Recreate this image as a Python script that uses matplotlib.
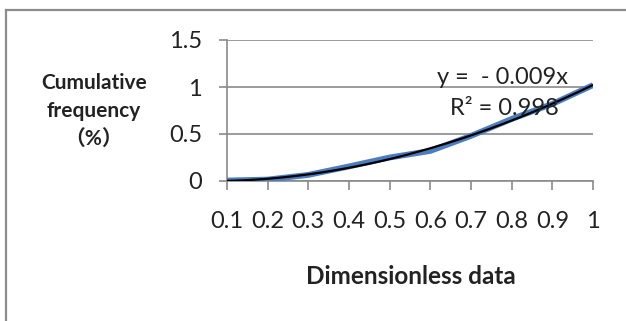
import matplotlib
matplotlib.use('Agg')
import numpy as np
import matplotlib.pyplot as plt
from matplotlib.lines import Line2D

# data
x_vals = [0.1, 0.2, 0.3, 0.4, 0.5, 0.6, 0.7, 0.8, 0.9, 1.0]
x_labels = ['0.1', '0.2', '0.3', '0.4', '0.5', '0.6', '0.7', '0.8', '0.9', '1']
cum_freq = [0.005, 0.015, 0.065, 0.155, 0.25, 0.32, 0.48, 0.66, 0.82, 1.02]
y_ticks = [0, 0.5, 1, 1.5]
y_labels = ['0', '0.5', '1', '1.5']

blue = '#4A7EC0'
grid_c = '#8a8a8a'
txt_c = '#222222'

plt.rcParams['font.family'] = ['Lato', 'DejaVu Sans']

fig = plt.figure(figsize=(6.26, 3.21), dpi=100)
W, H = 626, 321
ax = fig.add_axes([227 / W, 1 - 181 / H, (593 - 227) / W, (181 - 40) / H])

ax.plot(x_vals, cum_freq, color=blue, lw=4.2, solid_capstyle='butt', zorder=3)

# polynomial trendline fitted to the series
coef = np.polyfit(x_vals, cum_freq, 3)
xs = np.linspace(x_vals[0], x_vals[-1], 200)
ax.plot(xs, np.polyval(coef, xs), color='black', lw=1.6, zorder=4)

ax.set_xlim(x_vals[0], x_vals[-1])
ax.set_ylim(0, 1.5)
ax.set_xticks(x_vals)
ax.set_xticklabels(x_labels)
ax.set_yticks(y_ticks)
ax.set_yticklabels(y_labels)

for s in ['top', 'right']:
    ax.spines[s].set_visible(False)
for s in ['left', 'bottom']:
    ax.spines[s].set_color(grid_c)
    ax.spines[s].set_linewidth(1.2)

ax.yaxis.grid(True, color=grid_c, lw=1.2)
ax.set_axisbelow(True)
ax.tick_params(axis='x', length=6.5, width=1.2, color=grid_c, pad=15,
               labelsize=17, labelcolor=txt_c)
ax.tick_params(axis='y', length=6, width=1.2, color=grid_c, pad=12,
               labelsize=17, labelcolor=txt_c)

fig.text(568 / W, 1 - 78 / H, 'y =  - 0.009x', ha='right', va='center',
         fontsize=17, color=txt_c, zorder=5)
fig.text(504 / W, 1 - 109 / H, 'R² = 0.998', ha='center', va='center',
         fontsize=17, color=txt_c, zorder=5)

fig.text(94 / W, 1 - 111 / H, 'Cumulative\nfrequency\n（%）', ha='center', va='center',
         fontsize=15, fontweight='bold', color=txt_c, linespacing=1.5,
         family=['Lato', 'Noto Sans CJK SC', 'DejaVu Sans'])
fig.text(411 / W, 1 - 276 / H, 'Dimensionless data', ha='center', va='center',
         fontsize=17.5, fontweight='bold', color=txt_c)

# chart frame (left and top edges visible)
fig.add_artist(Line2D([6 / W, 6 / W], [0, 1 - 10 / H], transform=fig.transFigure,
                      color='#8c8c8c', lw=1.6))
fig.add_artist(Line2D([6 / W, 1], [1 - 10 / H, 1 - 10 / H], transform=fig.transFigure,
                      color='#8c8c8c', lw=1.6))

fig.savefig('out.png', dpi=100, facecolor='white')
